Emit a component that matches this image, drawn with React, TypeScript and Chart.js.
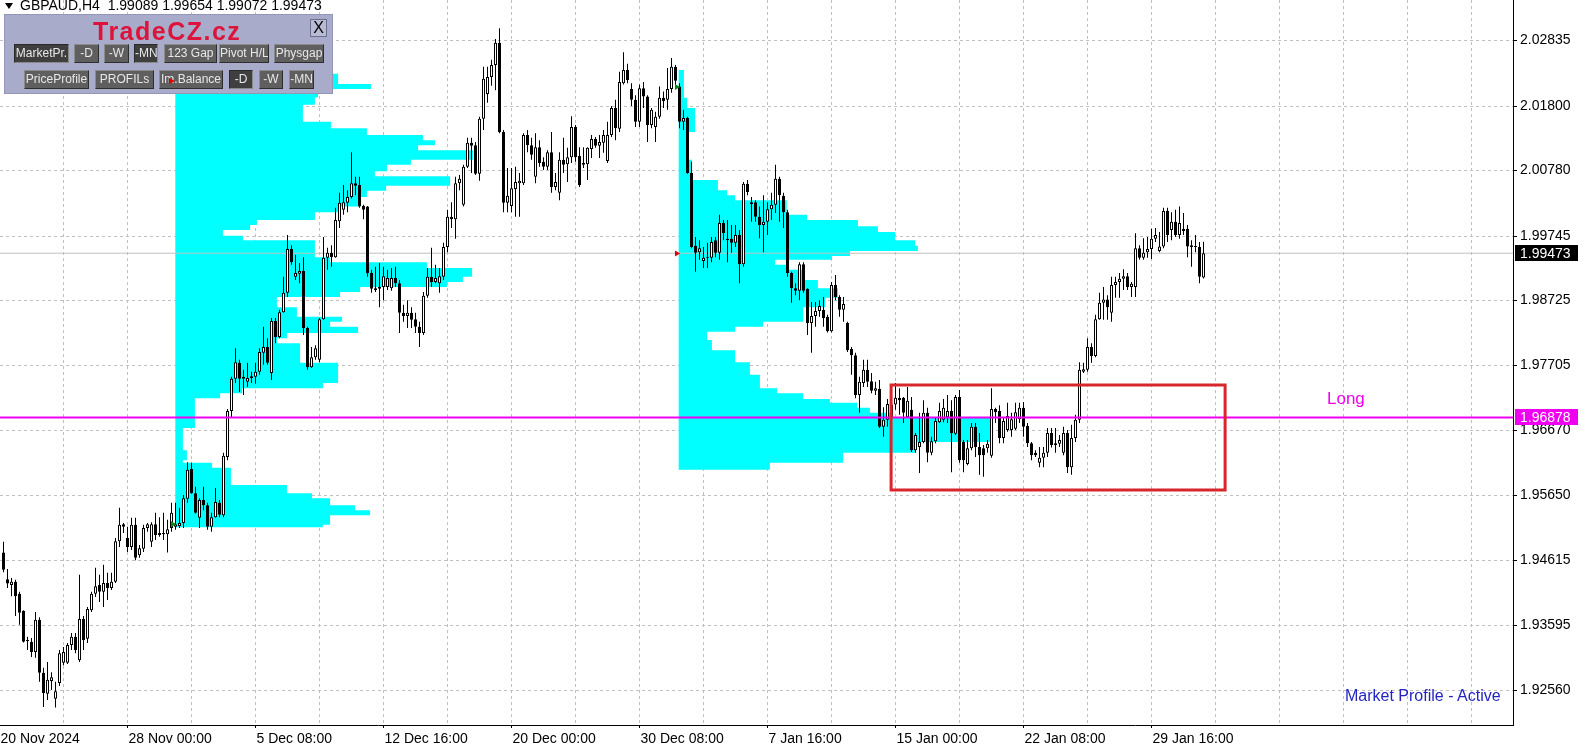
import React, { useEffect, useRef } from 'react';
import { Chart, registerables } from 'chart.js';

Chart.register(...registerables);

// ---------- DATA (GBPAUD H4) ----------
const openP = [
  1.9474, 1.9432, 1.9423, 1.9428, 1.9409, 1.9382, 1.9336, 1.9333, 1.9317, 1.9368,
  1.9284, 1.9251, 1.9271, 1.9243, 1.9268, 1.9300, 1.9300, 1.9328, 1.9341, 1.9304,
  1.9369, 1.9338, 1.9383, 1.9409, 1.9423, 1.9412, 1.9426, 1.9418, 1.9428, 1.9492,
  1.9519, 1.9497, 1.9483, 1.9518, 1.9470, 1.9480, 1.9513, 1.9491, 1.9519, 1.9505,
  1.9505, 1.9503, 1.9513, 1.9515, 1.9516, 1.9521, 1.9559, 1.9606, 1.9568, 1.9529,
  1.9557, 1.9549, 1.9515, 1.9530, 1.9553, 1.9533, 1.9625, 1.9698, 1.9749, 1.9774,
  1.9749, 1.9744, 1.9750, 1.9752, 1.9760, 1.9790, 1.9799, 1.9758, 1.9840, 1.9815,
  1.9854, 1.9885, 1.9954, 1.9910, 1.9915, 1.9919, 1.9829, 1.9767, 1.9783, 1.9779,
  1.9843, 1.9940, 1.9948, 1.9941, 1.9998, 2.0016, 2.0027, 2.0036, 2.0058, 2.0055,
  2.0022, 2.0021, 1.9916, 1.9892, 1.9891, 1.9894, 1.9894, 1.9892, 1.9908, 1.9900,
  1.9853, 1.9848, 1.9853, 1.9843, 1.9831, 1.9821, 1.9880, 1.9910, 1.9902, 1.9900,
  1.9910, 1.9957, 2.0005, 2.0001, 2.0058, 2.0024, 2.0084, 2.0122, 2.0118, 2.0073,
  2.0160, 2.0199, 2.0226, 2.0245, 2.0280, 2.0139, 2.0027, 2.0022, 2.0049, 2.0058,
  2.0058, 2.0134, 2.0118, 2.0068, 2.0115, 2.0092, 2.0084, 2.0107, 2.0052, 2.0043,
  2.0095, 2.0088, 2.0099, 2.0147, 2.0101, 2.0087, 2.0088, 2.0112, 2.0128, 2.0117,
  2.0122, 2.0093, 2.0134, 2.0177, 2.0144, 2.0216, 2.0237, 2.0207, 2.0190, 2.0155,
  2.0208, 2.0195, 2.0150, 2.0147, 2.0163, 2.0193, 2.0190, 2.0207, 2.0242, 2.0211,
  2.0155, 2.0161, 2.0074, 1.9959, 1.9949, 1.9935, 1.9941, 1.9940, 1.9968, 1.9948,
  1.9995, 1.9968, 1.9970, 1.9964, 1.9976, 1.9930, 2.0057, 2.0025, 2.0028, 2.0005,
  1.9992, 1.9997, 2.0017, 2.0024, 2.0065, 2.0038, 2.0012, 1.9916, 1.9892, 1.9888,
  1.9930, 1.9891, 1.9837, 1.9848, 1.9856, 1.9858, 1.9847, 1.9824, 1.9897, 1.9878,
  1.9858, 1.9837, 1.9796, 1.9786, 1.9723, 1.9742, 1.9763, 1.9745, 1.9730, 1.9733,
  1.9673, 1.9684, 1.9708, 1.9708, 1.9719, 1.9719, 1.9688, 1.9700, 1.9636, 1.9641,
  1.9649, 1.9695, 1.9632, 1.9650, 1.9680, 1.9684, 1.9688, 1.9698, 1.9662, 1.9720,
  1.9649, 1.9614, 1.9639, 1.9673, 1.9641, 1.9639, 1.9639, 1.9627, 1.9701, 1.9698,
  1.9655, 1.9668, 1.9668, 1.9670, 1.9685, 1.9703, 1.9674, 1.9647, 1.9632, 1.9616,
  1.9624, 1.9632, 1.9663, 1.9644, 1.9646, 1.9632, 1.9663, 1.9609, 1.9655, 1.9684,
  1.9760, 1.9763, 1.9799, 1.9785, 1.9843, 1.9869, 1.9874, 1.9853, 1.9897, 1.9902,
  1.9907, 1.9911, 1.9894, 1.9894, 1.9955, 1.9940, 1.9949, 1.9954, 1.9970, 1.9951,
  1.9958, 2.0014, 1.9984, 1.9997, 1.9976, 1.9986, 1.9986, 1.9960, 1.9958, 1.9957,
  1.99089,
];

const highP = [
  1.9491, 1.9448, 1.9434, 1.9431, 1.9412, 1.9383, 1.9341, 1.9339, 1.9380, 1.9372,
  1.9292, 1.9301, 1.9285, 1.9270, 1.9320, 1.9325, 1.9331, 1.9347, 1.9347, 1.9439,
  1.9374, 1.9388, 1.9412, 1.9450, 1.9439, 1.9455, 1.9442, 1.9442, 1.9497, 1.9545,
  1.9521, 1.9515, 1.9529, 1.9529, 1.9486, 1.9518, 1.9521, 1.9522, 1.9537, 1.9530,
  1.9537, 1.9526, 1.9553, 1.9553, 1.9545, 1.9565, 1.9617, 1.9616, 1.9578, 1.9560,
  1.9578, 1.9553, 1.9537, 1.9576, 1.9557, 1.9632, 1.9701, 1.9752, 1.9797, 1.9779,
  1.9763, 1.9774, 1.9760, 1.9774, 1.9797, 1.9831, 1.9813, 1.9845, 1.9845, 1.9858,
  1.9910, 1.9976, 1.9960, 1.9945, 1.9932, 1.9941, 1.9831, 1.9799, 1.9802, 1.9845,
  1.9973, 1.9956, 1.9960, 2.0019, 2.0043, 2.0055, 2.0047, 2.0107, 2.0068, 2.0068,
  2.0024, 2.0022, 1.9921, 1.9926, 1.9932, 1.9926, 1.9921, 1.9924, 1.9926, 1.9905,
  1.9866, 1.9873, 1.9862, 1.9853, 1.9839, 1.9886, 1.9924, 1.9956, 1.9929, 1.9924,
  1.9964, 2.0016, 2.0028, 2.0068, 2.0071, 2.0087, 2.0130, 2.0130, 2.0123, 2.0163,
  2.0242, 2.0242, 2.0253, 2.0286, 2.0303, 2.0142, 2.0082, 2.0082, 2.0084, 2.0074,
  2.0137, 2.0142, 2.0130, 2.0137, 2.0126, 2.0099, 2.0110, 2.0139, 2.0074, 2.0107,
  2.0130, 2.0114, 2.0164, 2.0150, 2.0115, 2.0115, 2.0115, 2.0134, 2.0131, 2.0134,
  2.0142, 2.0155, 2.0180, 2.0190, 2.0234, 2.0265, 2.0247, 2.0216, 2.0197, 2.0214,
  2.0218, 2.0197, 2.0177, 2.0171, 2.0211, 2.0203, 2.0240, 2.0256, 2.0245, 2.0216,
  2.0174, 2.0163, 2.0092, 1.9973, 1.9968, 1.9957, 1.9964, 1.9973, 1.9973, 2.0008,
  2.0000, 2.0000, 1.9992, 1.9992, 1.9984, 2.0060, 2.0063, 2.0036, 2.0031, 2.0021,
  2.0039, 2.0028, 2.0043, 2.0087, 2.0068, 2.0043, 2.0016, 1.9918, 1.9900, 1.9933,
  1.9933, 1.9892, 1.9870, 1.9870, 1.9873, 1.9878, 1.9850, 1.9902, 1.9913, 1.9881,
  1.9878, 1.9839, 1.9799, 1.9790, 1.9752, 1.9779, 1.9779, 1.9758, 1.9744, 1.9747,
  1.9704, 1.9717, 1.9715, 1.9742, 1.9734, 1.9720, 1.9736, 1.9720, 1.9663, 1.9695,
  1.9715, 1.9703, 1.9657, 1.9688, 1.9711, 1.9717, 1.9723, 1.9715, 1.9723, 1.9731,
  1.9652, 1.9652, 1.9679, 1.9679, 1.9663, 1.9644, 1.9652, 1.9734, 1.9703, 1.9707,
  1.9688, 1.9711, 1.9695, 1.9711, 1.9711, 1.9712, 1.9679, 1.9649, 1.9636, 1.9641,
  1.9641, 1.9671, 1.9671, 1.9671, 1.9660, 1.9673, 1.9668, 1.9676, 1.9692, 1.9775,
  1.9774, 1.9813, 1.9805, 1.9850, 1.9885, 1.9894, 1.9881, 1.9910, 1.9910, 1.9916,
  1.9922, 1.9916, 1.9902, 1.9979, 1.9960, 1.9971, 1.9973, 1.9986, 1.9987, 1.9981,
  2.0019, 2.0019, 2.0012, 2.0016, 2.0021, 2.0011, 1.9992, 1.9968, 1.9976, 1.9965,
  1.99654,
];

const lowP = [
  1.9443, 1.9418, 1.9405, 1.9374, 1.9360, 1.9332, 1.9320, 1.9309, 1.9308, 1.9270,
  1.9230, 1.9241, 1.9257, 1.9229, 1.9263, 1.9296, 1.9298, 1.9320, 1.9315, 1.9301,
  1.9320, 1.9331, 1.9380, 1.9404, 1.9396, 1.9388, 1.9399, 1.9415, 1.9426, 1.9483,
  1.9505, 1.9475, 1.9478, 1.9462, 1.9466, 1.9475, 1.9507, 1.9483, 1.9494, 1.9499,
  1.9494, 1.9474, 1.9507, 1.9510, 1.9513, 1.9513, 1.9553, 1.9567, 1.9536, 1.9513,
  1.9541, 1.9510, 1.9507, 1.9529, 1.9530, 1.9530, 1.9620, 1.9688, 1.9742, 1.9728,
  1.9723, 1.9736, 1.9742, 1.9741, 1.9755, 1.9771, 1.9771, 1.9747, 1.9805, 1.9813,
  1.9853, 1.9878, 1.9929, 1.9905, 1.9900, 1.9818, 1.9763, 1.9766, 1.9779, 1.9775,
  1.9842, 1.9921, 1.9926, 1.9940, 1.9987, 2.0008, 2.0012, 2.0034, 2.0039, 2.0019,
  2.0001, 1.9910, 1.9885, 1.9886, 1.9862, 1.9873, 1.9889, 1.9888, 1.9894, 1.9821,
  1.9839, 1.9829, 1.9829, 1.9821, 1.9799, 1.9818, 1.9877, 1.9894, 1.9900, 1.9885,
  1.9905, 1.9949, 1.9987, 1.9970, 2.0047, 2.0021, 2.0082, 2.0074, 2.0071, 2.0062,
  2.0142, 2.0185, 2.0212, 2.0205, 2.0137, 2.0012, 2.0012, 2.0012, 2.0005, 2.0005,
  2.0055, 2.0107, 2.0095, 2.0058, 2.0084, 2.0079, 2.0079, 2.0043, 2.0047, 2.0031,
  2.0074, 2.0060, 2.0090, 2.0092, 2.0052, 2.0082, 2.0063, 2.0098, 2.0114, 2.0098,
  2.0106, 2.0090, 2.0131, 2.0126, 2.0139, 2.0214, 2.0216, 2.0180, 2.0147, 2.0147,
  2.0177, 2.0123, 2.0145, 2.0123, 2.0160, 2.0177, 2.0174, 2.0201, 2.0211, 2.0145,
  2.0142, 2.0073, 1.9955, 1.9918, 1.9937, 1.9924, 1.9924, 1.9933, 1.9941, 1.9937,
  1.9968, 1.9933, 1.9948, 1.9957, 1.9900, 1.9926, 2.0039, 1.9997, 1.9997, 1.9971,
  1.9949, 1.9976, 2.0000, 2.0011, 1.9997, 1.9987, 1.9910, 1.9869, 1.9881, 1.9873,
  1.9885, 1.9818, 1.9790, 1.9831, 1.9847, 1.9831, 1.9822, 1.9822, 1.9873, 1.9847,
  1.9839, 1.9791, 1.9755, 1.9718, 1.9695, 1.9736, 1.9736, 1.9726, 1.9723, 1.9671,
  1.9657, 1.9673, 1.9684, 1.9700, 1.9692, 1.9679, 1.9687, 1.9633, 1.9632, 1.9600,
  1.9647, 1.9617, 1.9628, 1.9647, 1.9679, 1.9680, 1.9679, 1.9601, 1.9660, 1.9616,
  1.9601, 1.9612, 1.9636, 1.9625, 1.9597, 1.9594, 1.9632, 1.9624, 1.9679, 1.9647,
  1.9647, 1.9665, 1.9657, 1.9668, 1.9679, 1.9657, 1.9641, 1.9620, 1.9625, 1.9609,
  1.9609, 1.9625, 1.9640, 1.9632, 1.9641, 1.9628, 1.9600, 1.9597, 1.9649, 1.9679,
  1.9758, 1.9760, 1.9774, 1.9783, 1.9842, 1.9842, 1.9842, 1.9839, 1.9877, 1.9877,
  1.9889, 1.9889, 1.9878, 1.9878, 1.9937, 1.9937, 1.9940, 1.9938, 1.9965, 1.9949,
  1.9955, 1.9965, 1.9968, 1.9973, 1.9970, 1.9976, 1.9941, 1.9926, 1.9949, 1.9900,
  1.99072,
];

const closeP = [
  1.9447, 1.9425, 1.9428, 1.9405, 1.9379, 1.9333, 1.9334, 1.9317, 1.9368, 1.9284,
  1.9252, 1.9273, 1.9277, 1.9255, 1.9315, 1.9317, 1.9328, 1.9341, 1.9320, 1.9369,
  1.9336, 1.9385, 1.9409, 1.9421, 1.9412, 1.9426, 1.9418, 1.9428, 1.9492, 1.9518,
  1.9515, 1.9483, 1.9518, 1.9466, 1.9481, 1.9513, 1.9519, 1.9519, 1.9502, 1.9502,
  1.9503, 1.9511, 1.9537, 1.9519, 1.9521, 1.9560, 1.9605, 1.9568, 1.9537, 1.9557,
  1.9549, 1.9515, 1.9530, 1.9554, 1.9534, 1.9627, 1.9698, 1.9749, 1.9775, 1.9749,
  1.9752, 1.9750, 1.9753, 1.9760, 1.9791, 1.9799, 1.9774, 1.9840, 1.9815, 1.9854,
  1.9885, 1.9954, 1.9933, 1.9916, 1.9919, 1.9829, 1.9767, 1.9783, 1.9797, 1.9843,
  1.9940, 1.9948, 1.9941, 2.0000, 2.0027, 2.0028, 2.0036, 2.0058, 2.0054, 2.0021,
  2.0016, 1.9916, 1.9891, 1.9889, 1.9894, 1.9911, 1.9908, 1.9908, 1.9900, 1.9853,
  1.9848, 1.9853, 1.9842, 1.9831, 1.9821, 1.9880, 1.9910, 1.9902, 1.9908, 1.9911,
  1.9957, 2.0005, 2.0001, 2.0058, 2.0065, 2.0084, 2.0122, 2.0117, 2.0073, 2.0160,
  2.0223, 2.0226, 2.0245, 2.0280, 2.0139, 2.0027, 2.0038, 2.0050, 2.0060, 2.0062,
  2.0134, 2.0118, 2.0103, 2.0115, 2.0090, 2.0084, 2.0107, 2.0052, 2.0060, 2.0095,
  2.0087, 2.0099, 2.0147, 2.0099, 2.0055, 2.0090, 2.0114, 2.0128, 2.0117, 2.0123,
  2.0134, 2.0134, 2.0177, 2.0145, 2.0218, 2.0237, 2.0221, 2.0190, 2.0155, 2.0208,
  2.0195, 2.0150, 2.0174, 2.0163, 2.0193, 2.0188, 2.0207, 2.0242, 2.0220, 2.0155,
  2.0161, 2.0074, 1.9957, 1.9948, 1.9955, 1.9940, 1.9940, 1.9965, 1.9948, 1.9995,
  1.9979, 1.9970, 1.9964, 1.9976, 1.9930, 2.0057, 2.0044, 2.0028, 2.0005, 1.9992,
  1.9997, 2.0017, 2.0024, 2.0065, 2.0039, 2.0012, 1.9916, 1.9892, 1.9888, 1.9930,
  1.9888, 1.9837, 1.9848, 1.9856, 1.9864, 1.9845, 1.9824, 1.9897, 1.9878, 1.9858,
  1.9867, 1.9794, 1.9786, 1.9723, 1.9744, 1.9763, 1.9744, 1.9730, 1.9734, 1.9673,
  1.9684, 1.9709, 1.9687, 1.9719, 1.9715, 1.9695, 1.9714, 1.9636, 1.9660, 1.9649,
  1.9695, 1.9632, 1.9650, 1.9682, 1.9698, 1.9703, 1.9698, 1.9663, 1.9720, 1.9620,
  1.9620, 1.9639, 1.9673, 1.9641, 1.9628, 1.9628, 1.9646, 1.9701, 1.9696, 1.9655,
  1.9682, 1.9690, 1.9685, 1.9696, 1.9703, 1.9673, 1.9647, 1.9628, 1.9628, 1.9624,
  1.9632, 1.9663, 1.9644, 1.9647, 1.9652, 1.9663, 1.9609, 1.9655, 1.9684, 1.9763,
  1.9764, 1.9799, 1.9785, 1.9843, 1.9869, 1.9874, 1.9862, 1.9897, 1.9902, 1.9907,
  1.9911, 1.9894, 1.9899, 1.9955, 1.9940, 1.9948, 1.9954, 1.9970, 1.9976, 1.9958,
  2.0014, 1.9976, 1.9997, 1.9976, 1.9995, 1.9982, 1.9958, 1.9957, 1.9957, 1.9910,
  1.99473,
];

// Price axis labels
const priceTicks = [1.92560, 1.93595, 1.94615, 1.95650, 1.96670, 1.97705, 1.98725, 1.99745, 2.00780, 2.01800, 2.02835];
// Time axis: bar index of grid lines and of labelled ticks
const gridBars = [-1, 15, 31, 47, 63, 79, 95, 111, 127, 143, 159, 175, 191, 207, 223, 239, 255, 271, 287, 303, 319, 335, 351, 367];
const timeLabelBars = [-1, 31, 63, 95, 127, 159, 191, 223, 255, 287];
const timeLabels = ['20 Nov 2024', '28 Nov 00:00', '5 Dec 08:00', '12 Dec 16:00', '20 Dec 00:00', '30 Dec 08:00', '7 Jan 16:00', '15 Jan 00:00', '22 Jan 08:00', '29 Jan 16:00'];

// Market profiles: start bar, price row edges (top->bottom), row lengths in bars
const profile1Start = 42.95;
const profile1Edges = [2.0231, 2.0215, 2.0207, 2.0194, 2.0182, 2.0155, 2.0145, 2.0134, 2.0126, 2.0118, 2.0110, 2.0095, 2.0087, 2.0077, 2.0069, 2.0054, 2.0046, 2.0036, 2.0021, 2.0012, 2.0000, 1.9992, 1.9984, 1.9975, 1.9968, 1.9941, 1.9933, 1.9924, 1.9910, 1.9902, 1.9894, 1.9886, 1.9878, 1.9862, 1.9847, 1.9839, 1.9831, 1.9821, 1.9813, 1.9805, 1.9774, 1.9742, 1.9734, 1.9726, 1.9718, 1.9671, 1.9636, 1.9620, 1.9616, 1.9608, 1.9581, 1.9568, 1.9560, 1.9549, 1.9541, 1.9533, 1.9518, 1.9514];
const profile1Widths = [40.7, 48.9, 35.7, 34.9, 31.9, 38.9, 47.9, 61.9, 64.9, 60.7, 74.4, 58.9, 52.9, 49.9, 68.7, 52.7, 47.9, 46.2, 41.2, 34.9, 20.4, 18.7, 11.9, 16.9, 34.9, 38.7, 62.9, 74.2, 71.9, 67.9, 46.2, 41.2, 25.4, 30.4, 41.7, 38.7, 45.7, 27.9, 25.4, 31.2, 40.7, 36.9, 16.7, 11.2, 4.9, 1.9, 2.9, 1.9, 9.2, 13.9, 27.9, 34.2, 38.7, 44.9, 48.7, 38.7, 36.9];
const profile2Start = 168.8;
const profile2Edges = [2.0237, 2.0193, 2.0177, 2.0139, 2.0095, 2.0063, 2.0047, 2.0039, 2.0031, 2.0008, 2.0000, 1.9990, 1.9981, 1.9968, 1.9959, 1.9951, 1.9943, 1.9937, 1.9929, 1.9921, 1.9905, 1.9892, 1.9877, 1.9862, 1.9839, 1.9831, 1.9823, 1.9810, 1.9794, 1.9775, 1.9755, 1.9734, 1.9726, 1.9717, 1.9711, 1.9703, 1.9695, 1.9688, 1.9649, 1.9632, 1.9616, 1.9605];
const profile2Widths = [1.3, 2.1, 4.1, 2.3, 3.3, 9.8, 12.1, 14.1, 27.0, 32.1, 44.8, 49.8, 54.1, 59.1, 59.8, 42.8, 38.3, 24.1, 27.1, 31.1, 34.8, 39.8, 36.6, 31.1, 21.1, 14.1, 7.1, 8.3, 14.1, 17.8, 20.3, 24.6, 31.1, 37.8, 44.6, 47.8, 53.6, 78.6, 59.1, 41.1, 22.8];

// Levels and zone
const bidLevel = 1.99473;
const longLevel = 1.96878;
const zoneFromBar = 221.9;
const zoneToBar = 305.4;
const zoneHigh = 1.9739;
const zoneLow = 1.9573;

// Arrow markers [bar, price]
const greenArrows = [[42.3, 1.9519], [168.3, 2.0210]];
const redArrows = [[168.3, 1.9947]];

// ---------- STYLE CONSTANTS ----------
const X_MIN = -0.875;
const X_MAX = 377.375;
const Y_MIN = 1.92015;
const Y_MAX = 2.03476;
const AXIS_FONT = "'Liberation Sans', Arial, sans-serif";
const UI_FONT = "'Liberation Sans', Arial, sans-serif";
const MAGENTA = '#f000f0';

function profilePolygon(start: number, edges: number[], widths: number[]) {
  const pts: { x: number; y: number }[] = [];
  const bottom = edges[edges.length - 1];
  pts.push({ x: start, y: bottom });
  pts.push({ x: start, y: edges[0] });
  let maxW = 0;
  for (let k = 0; k < widths.length; k++) {
    pts.push({ x: start + widths[k], y: edges[k] });
    pts.push({ x: start + widths[k], y: edges[k + 1] });
    if (widths[k] > maxW) maxW = widths[k];
  }
  pts.push({ x: start + maxW, y: bottom });
  return pts;
}

const priceTagPlugin = {
  id: 'priceTags',
  afterDraw(chart: any) {
    const { ctx, scales } = chart;
    const ys = scales.y;
    const tags = [
      { v: bidLevel, bg: '#000000' },
      { v: longLevel, bg: MAGENTA },
    ];
    ctx.save();
    ctx.font = `14px ${AXIS_FONT}`;
    ctx.textBaseline = 'middle';
    ctx.textAlign = 'left';
    for (const t of tags) {
      const py = Math.round(ys.getPixelForValue(t.v));
      ctx.fillStyle = t.bg;
      ctx.fillRect(ys.left + 2, py - 8, 63, 16);
      ctx.fillStyle = '#ffffff';
      ctx.fillText(t.v.toFixed(5), ys.left + 7, py + 1);
    }
    ctx.restore();
  },
};

type Btn = { x: number; y: number; w: number; label: string; pressed?: boolean };
const buttons: Btn[] = [
  { x: 14, y: 44, w: 55, label: 'MarketPr.', pressed: true },
  { x: 74, y: 44, w: 25, label: '-D' },
  { x: 104, y: 44, w: 25, label: '-W' },
  { x: 134, y: 44, w: 24, label: '-MN', pressed: true },
  { x: 164, y: 44, w: 53, label: '123 Gap' },
  { x: 219, y: 44, w: 50, label: 'Pivot H/L' },
  { x: 274, y: 44, w: 50, label: 'Physgap' },
  { x: 24, y: 70, w: 65, label: 'PriceProfile' },
  { x: 95, y: 70, w: 59, label: 'PROFILs' },
  { x: 159, y: 70, w: 64, label: 'Im.Balance' },
  { x: 229, y: 70, w: 24, label: '-D', pressed: true },
  { x: 259, y: 70, w: 24, label: '-W' },
  { x: 289, y: 70, w: 25, label: '-MN' },
];

export default function App() {
  const canvasRef = useRef<HTMLCanvasElement>(null);

  useEffect(() => {
    const canvas = canvasRef.current;
    if (!canvas) return;

    const wickData = openP.map((_, i) => ({ x: i, y: [lowP[i], highP[i]] }));
    const bodyData = openP.map((o, i) => ({ x: i, y: [Math.min(o, closeP[i]), Math.max(o, closeP[i])] }));
    const bodyColors = openP.map((o, i) => (closeP[i] >= o ? '#ffffff' : '#000000'));

    const zoneData = [
      { x: zoneFromBar, y: zoneHigh },
      { x: zoneToBar, y: zoneHigh },
      { x: zoneToBar, y: zoneLow },
      { x: zoneFromBar, y: zoneLow },
      { x: zoneFromBar, y: zoneHigh },
    ];

    const chart = new Chart(canvas, {
      type: 'bar',
      data: {
        datasets: [
          {
            type: 'line',
            data: profilePolygon(profile1Start, profile1Edges, profile1Widths),
            backgroundColor: '#00ffff',
            borderColor: 'rgba(0,0,0,0)',
            borderWidth: 0,
            pointRadius: 0,
            fill: 'shape',
            order: 10,
          } as any,
          {
            type: 'line',
            data: profilePolygon(profile2Start, profile2Edges, profile2Widths),
            backgroundColor: '#00ffff',
            borderColor: 'rgba(0,0,0,0)',
            borderWidth: 0,
            pointRadius: 0,
            fill: 'shape',
            order: 10,
          } as any,
          {
            type: 'line',
            data: [{ x: X_MIN, y: bidLevel }, { x: X_MAX, y: bidLevel }],
            borderColor: '#c0c0c0',
            borderWidth: 1,
            pointRadius: 0,
            fill: false,
            order: 9,
          } as any,
          {
            type: 'bar',
            data: wickData,
            backgroundColor: '#000000',
            borderWidth: 0,
            barThickness: 1,
            grouped: false,
            inflateAmount: 0,
            minBarLength: 1,
            order: 5,
          } as any,
          {
            type: 'bar',
            data: bodyData,
            backgroundColor: bodyColors,
            borderColor: '#000000',
            borderWidth: 1,
            borderSkipped: false,
            barThickness: 3,
            grouped: false,
            inflateAmount: 0,
            minBarLength: 1,
            order: 4,
          } as any,
          {
            type: 'line',
            data: [{ x: X_MIN, y: longLevel }, { x: X_MAX, y: longLevel }],
            borderColor: MAGENTA,
            borderWidth: 2,
            pointRadius: 0,
            fill: false,
            order: 3,
          } as any,
          {
            type: 'line',
            data: zoneData,
            borderColor: '#d8262c',
            borderWidth: 3,
            borderCapStyle: 'square',
            borderJoinStyle: 'miter',
            pointRadius: 0,
            fill: false,
            order: 2,
          } as any,
          {
            type: 'scatter',
            data: greenArrows.map(([x, y]) => ({ x, y })),
            pointStyle: 'triangle',
            rotation: 90,
            radius: 3.5,
            backgroundColor: '#0b8a12',
            borderColor: '#0b8a12',
            borderWidth: 0,
            order: 1,
          } as any,
          {
            type: 'scatter',
            data: redArrows.map(([x, y]) => ({ x, y })),
            pointStyle: 'triangle',
            rotation: 90,
            radius: 3.5,
            backgroundColor: '#e00000',
            borderColor: '#e00000',
            borderWidth: 0,
            order: 1,
          } as any,
        ],
      },
      options: {
        responsive: false,
        maintainAspectRatio: false,
        animation: false,
        devicePixelRatio: 1,
        events: [],
        layout: { padding: 0, autoPadding: false },
        plugins: {
          legend: { display: false },
          tooltip: { enabled: false },
        },
        scales: {
          x: {
            type: 'linear',
            min: X_MIN,
            max: X_MAX,
            offset: false,
            bounds: 'data',
            afterBuildTicks: (s: any) => {
              s.ticks = gridBars.map((v) => ({ value: v }));
            },
            afterFit: (s: any) => {
              s.height = 27;
              s.paddingLeft = 0;
              s.paddingRight = 0;
            },
            grid: {
              offset: false,
              color: '#c0c0c0',
              lineWidth: 1,
              drawTicks: true,
              tickLength: 3,
              tickWidth: 1,
              tickColor: (c: any) => (c.tick && timeLabelBars.includes(c.tick.value) ? '#000000' : 'rgba(0,0,0,0)'),
            },
            border: { display: true, color: '#000000', width: 1, dash: [3, 3] },
            ticks: {
              autoSkip: false,
              maxRotation: 0,
              minRotation: 0,
              align: 'start',
              labelOffset: 1,
              padding: 3,
              color: '#000000',
              font: { family: AXIS_FONT, size: 14 },
              callback: (value: any) => {
                const k = timeLabelBars.indexOf(Number(value));
                return k >= 0 ? timeLabels[k] : '';
              },
            },
          },
          y: {
            type: 'linear',
            position: 'right',
            min: Y_MIN,
            max: Y_MAX,
            offset: false,
            bounds: 'data',
            afterBuildTicks: (s: any) => {
              s.ticks = priceTicks.map((v) => ({ value: v }));
            },
            afterFit: (s: any) => {
              s.width = 68;
              s.paddingTop = 0;
              s.paddingBottom = 0;
            },
            grid: {
              color: '#c0c0c0',
              lineWidth: 1,
              drawTicks: true,
              tickLength: 4,
              tickWidth: 1,
              tickColor: '#000000',
            },
            border: { display: true, color: '#000000', width: 1, dash: [3, 3] },
            ticks: {
              padding: 3,
              crossAlign: 'near',
              color: '#000000',
              font: { family: AXIS_FONT, size: 14 },
              callback: (value: any) => Number(value).toFixed(5),
            },
          },
        },
      } as any,
      plugins: [priceTagPlugin],
    });

    return () => chart.destroy();
  }, []);

  return (
    <div style={{ position: 'fixed', left: 0, top: 0, width: 1581, height: 752, background: '#ffffff', overflow: 'hidden' }}>
      <canvas ref={canvasRef} width={1581} height={752} style={{ position: 'absolute', left: 0, top: 0, width: 1581, height: 752 }} />

      {/* symbol header */}
      <div style={{ position: 'absolute', left: 5, top: 3, width: 0, height: 0, borderLeft: '4px solid transparent', borderRight: '4px solid transparent', borderTop: '6px solid #000' }} />
      <div style={{ position: 'absolute', left: 20, top: -2, font: `14px ${UI_FONT}`, lineHeight: '14px', color: '#000', whiteSpace: 'pre' }}>
        GBPAUD,H4  1.99089 1.99654 1.99072 1.99473
      </div>

      {/* indicator panel */}
      <div style={{ position: 'absolute', left: 4, top: 14, width: 329, height: 80, boxSizing: 'border-box', background: '#a9abcb', border: '1px solid #9496b6' }}>
        <div style={{ position: 'absolute', left: 88, top: 4, font: `bold 25px ${UI_FONT}`, letterSpacing: '1.5px', lineHeight: '24px', color: '#dc143c', whiteSpace: 'nowrap' }}>
          TradeCZ.cz
        </div>
        <div style={{ position: 'absolute', left: 305, top: 4, width: 17, height: 18, boxSizing: 'border-box', background: '#b8bad6', border: '1px solid #6d6f8f', font: `16px ${UI_FONT}`, lineHeight: '16px', textAlign: 'center', color: '#000' }}>
          X
        </div>
        {buttons.map((b, i) => (
          <div
            key={i}
            style={{
              position: 'absolute',
              left: b.x - 5,
              top: b.y - 15,
              width: b.w,
              height: 19,
              boxSizing: 'border-box',
              background: b.pressed ? '#3f3f3f' : '#5f5f5f',
              borderStyle: 'solid',
              borderWidth: 1,
              borderColor: b.pressed ? '#2a2a2a #8a8a8a #8a8a8a #2a2a2a' : '#8c8c8c #2e2e2e #2e2e2e #8c8c8c',
              color: '#e8e8e8',
              font: `12px ${UI_FONT}`,
              lineHeight: '17px',
              textAlign: 'center',
              whiteSpace: 'nowrap',
              overflow: 'hidden',
            }}
          >
            {b.label}
          </div>
        ))}
      </div>
      <div style={{ position: 'absolute', left: 169, top: 78, width: 0, height: 0, borderTop: '3px solid transparent', borderBottom: '3px solid transparent', borderLeft: '6px solid #e00000' }} />

      {/* chart texts */}
      <div style={{ position: 'absolute', left: 1327, top: 389, font: `17px ${UI_FONT}`, lineHeight: '19px', color: MAGENTA, whiteSpace: 'nowrap' }}>Long</div>
      <div style={{ position: 'absolute', left: 1345, top: 687, font: `16px ${UI_FONT}`, lineHeight: '18px', color: '#2424c4', whiteSpace: 'nowrap' }}>Market Profile - Active</div>
    </div>
  );
}
